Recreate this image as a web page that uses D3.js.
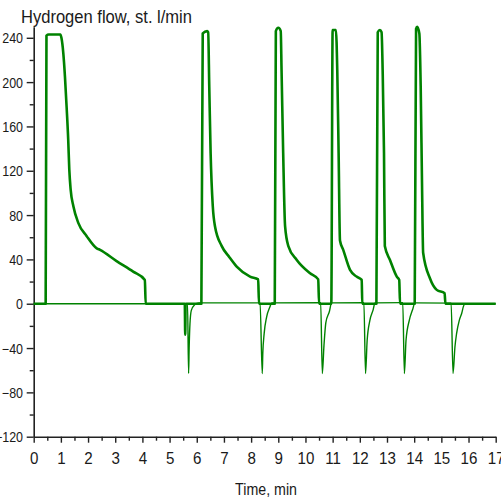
<!DOCTYPE html>
<html>
<head>
<meta charset="utf-8">
<script src="https://cdn.jsdelivr.net/npm/d3@7"></script>
<style>
  html, body { margin: 0; padding: 0; background: #fff; }
  svg { display: block; }
  text { font-family: "Liberation Sans", Arial, sans-serif; fill: #1a1a1a; }
</style>
</head>
<body>
<script>
// ---- Data ----
const title = "Hydrogen flow, st. l/min";
const xTitle = "Time, min";
const xTicks = [0,1,2,3,4,5,6,7,8,9,10,11,12,13,14,15,16,17];
const yTicks = [-120,-80,-40,0,40,80,120,160,200,240];

// Main flow (thick line): [time, flow]
const flowTime = [
  0, 0.44, 0.47, 0.55, 0.98, 1.02, 1.09, 1.15, 1.21, 1.27, 1.31, 1.36, 1.46, 1.64, 1.95, 2.32, 2.44, 3.05, 3.66, 4.09, 4.12,
  5.56, 5.575, 5.59,
  6.17, 6.22, 6.38, 6.42, 6.46, 6.51, 6.59, 6.67, 6.92, 7.2, 7.47, 7.96, 8.26, 8.29,
  8.87, 8.91, 9.0, 9.09, 9.12, 9.18, 9.25, 9.37, 9.68, 10.17, 10.47, 10.50,
  10.95, 11.0, 11.12, 11.17, 11.22, 11.27, 11.39, 11.64, 11.88, 12.07, 12.09,
  12.61, 12.66, 12.74, 12.80, 12.84, 12.89, 12.92, 13.11, 13.36, 13.45, 13.48,
  14.02, 14.07, 14.11, 14.19, 14.24, 14.29, 14.33, 14.58, 14.83, 15.12, 15.15,
  17
];
const flowValue = [
  0, 0, 242, 243, 243, 240, 226, 205, 178, 148, 121, 103, 88, 73, 61, 50, 48.6, 38.5, 29, 21.5, 0,
  0, -28, 0,
  0, 244, 246, 245, 196, 136, 88, 70, 52, 42, 33.5, 24.5, 22, 0,
  0, 246, 249, 246, 211, 136, 70, 52, 39.5, 27.5, 22, 0,
  0, 247, 247, 211, 136, 57, 48.6, 30.5, 24.5, 21.5, 0,
  0, 245, 247, 245, 211, 136, 52, 39.5, 24.5, 21.5, 0,
  0, 248, 250, 244, 196, 106, 46, 23, 12.5, 9.5, 0,
  0
];

// Secondary signal (thin line): [time, flow]
const backTime = [
  0, 5.66, 5.70, 5.72, 5.75, 5.80, 5.92, 6.08,
  8.33, 8.41, 8.43, 8.48, 8.57, 8.69, 8.76,
  10.56, 10.62, 10.68, 10.75, 10.88, 10.96,
  12.15, 12.21, 12.27, 12.37, 12.49, 12.56,
  13.58, 13.64, 13.70, 13.82, 13.94, 14.03,
  15.36, 15.43, 15.50, 15.56, 15.66, 15.75, 15.81, 15.87,
  17
];
const backValue = [
  0, 0, -63, -40, -18, -6, -1, 0.8,
  0.8, -63, -45, -27, -12, -3, 0.8,
  1, -63, -38, -17, -7, 0.8,
  1, -63, -33, -15, -5.5, 0.8,
  1, -63, -33, -15, -5.5, 0.8,
  0.5, -63, -39, -27, -15, -8.6, -2.6, 0,
  0
];

// ---- Layout ----
const W = 501, H = 499;
const svg = d3.select("body").append("svg").attr("width", W).attr("height", H);
const x = d3.scaleLinear().domain([0, 17]).range([33.7, 495.7]);
const y = d3.scaleLinear().domain([-120, 250]).range([436.7, 26.7]);
const green = "#008200";
const axisColor = "#222";
const sx = 0.89;

// Axes
const xMinor = d3.range(0.5, 17, 1);
const yMinor = [-100, -60, -20, 20, 60, 100, 140, 180, 220];

const gx = svg.append("g").attr("transform", `translate(0,${y(-120)})`);
gx.call(d3.axisBottom(x).tickValues(xTicks).tickSize(6).tickSizeOuter(0).tickFormat(d3.format("d")));
const gxm = svg.append("g").attr("transform", `translate(0,${y(-120)})`);
gxm.call(d3.axisBottom(x).tickValues(xMinor).tickSize(4).tickSizeOuter(0).tickFormat(""));
gxm.select(".domain").remove();

const gy = svg.append("g").attr("transform", `translate(${x(0)},0)`);
gy.call(d3.axisLeft(y).tickValues(yTicks).tickSize(7).tickSizeOuter(0).tickFormat(d3.format("d")));
const gym = svg.append("g").attr("transform", `translate(${x(0)},0)`);
gym.call(d3.axisLeft(y).tickValues(yMinor).tickSize(4).tickSizeOuter(0).tickFormat(""));
gym.select(".domain").remove();

svg.selectAll(".domain").attr("stroke", axisColor).attr("stroke-width", 1.6);
svg.selectAll(".tick line").attr("stroke", axisColor).attr("stroke-width", 1.4);

gx.selectAll(".tick text")
  .attr("y", 27.3).attr("dy", 0)
  .attr("font-size", 17)
  .attr("transform", `scale(${sx},1)`)
  .style("fill", "#1a1a1a");
gy.selectAll(".tick text")
  .attr("x", -10.7 / sx).attr("dy", "0.36em")
  .attr("font-size", 14)
  .attr("transform", `scale(${sx},1)`)
  .style("fill", "#1a1a1a");
svg.selectAll(".tick text").attr("font-family", null);

// Lines
const flowData = flowTime.map((t, i) => [t, flowValue[i]]);
const backData = backTime.map((t, i) => [t, backValue[i]]);
const line = d3.line().x(d => x(d[0])).y(d => y(d[1])).curve(d3.curveMonotoneX);

svg.append("path").datum(backData)
  .attr("d", line).attr("fill", "none")
  .attr("stroke", green).attr("stroke-width", 1.4)
  .attr("stroke-linejoin", "round");
svg.append("path").datum(flowData)
  .attr("d", line).attr("fill", "none")
  .attr("stroke", green).attr("stroke-width", 2.6)
  .attr("stroke-linejoin", "round");

// Titles
svg.append("text")
  .attr("transform", `translate(21,22.7) scale(${sx},1)`)
  .attr("font-size", 18.6)
  .text(title);
svg.append("text")
  .attr("transform", `translate(266,495) scale(${sx},1)`)
  .attr("text-anchor", "middle")
  .attr("font-size", 16)
  .text(xTitle);
</script>
</body>
</html>
